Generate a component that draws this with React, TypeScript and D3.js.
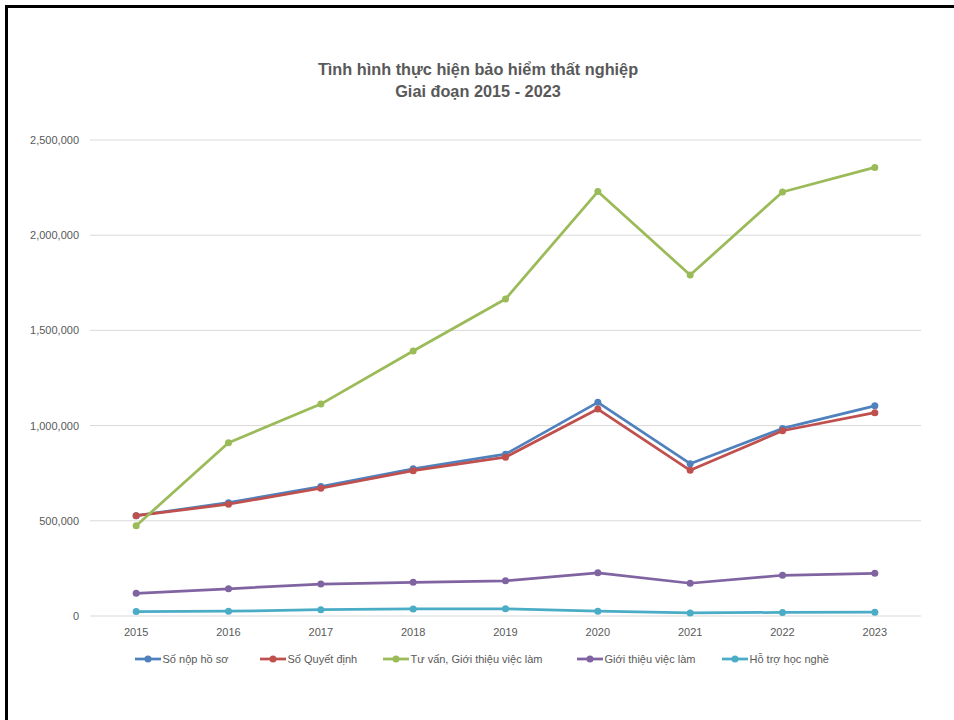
import React from "react";
import * as d3 from "d3";

const years = ["2015", "2016", "2017", "2018", "2019", "2020", "2021", "2022", "2023"];
const soNopHoSo = [527000, 595000, 680000, 773000, 850000, 1122000, 800000, 985000, 1104000];
const soQuyetDinh = [527000, 587000, 671000, 763000, 834000, 1087000, 765000, 973000, 1068000];
const tuVan = [474000, 910000, 1113000, 1392000, 1665000, 2229000, 1791000, 2227000, 2356000];
const gioiThieu = [119000, 143000, 168000, 177000, 185000, 227000, 172000, 214000, 224000];
const hoTro = [23000, 25000, 33000, 37000, 38000, 25000, 16000, 19000, 20000];
const yTicks = [0, 500000, 1000000, 1500000, 2000000, 2500000];
const titleLines = ["Tình hình thực hiện bảo hiểm thất nghiệp", "Giai đoạn 2015 - 2023"];

const series = [
  { name: "Số nộp hồ sơ", values: soNopHoSo, color: "#4F81BD" },
  { name: "Số Quyết định", values: soQuyetDinh, color: "#C0504D" },
  { name: "Tư vấn, Giới thiệu việc làm", values: tuVan, color: "#9BBB59" },
  { name: "Giới thiệu việc làm", values: gioiThieu, color: "#8064A2" },
  { name: "Hỗ trợ học nghề", values: hoTro, color: "#4BACC6" },
];

const W = 954;
const H = 720;
const plot = { left: 90, right: 921, top: 140, bottom: 616 };
const legendX = [135, 260, 383, 577, 722];
const font = "'Liberation Sans', Arial, sans-serif";
const textColor = "#595959";

export default function App() {
  React.useEffect(() => {
    document.body.style.margin = "0";
  }, []);
  const x = d3.scaleBand<string>().domain(years).range([plot.left, plot.right]);
  const y = d3.scaleLinear().domain([0, 2500000]).range([plot.bottom, plot.top]);
  const fmt = d3.format(",");
  const line = d3
    .line<number>()
    .x((_, i) => (x(years[i]) as number) + x.bandwidth() / 2)
    .y((d) => y(d));

  return (
    <svg width={W} height={H} style={{ display: "block", background: "#fff" }}>
      <rect x={6.5} y={6.5} width={W + 20} height={H + 20} fill="none" stroke="#000" strokeWidth={3} />
      <g fontFamily={font} fontWeight="bold" fontSize={16.3} fill={textColor} textAnchor="middle">
        {titleLines.map((t, i) => (
          <text key={i} x={478} y={75 + i * 22}>
            {t}
          </text>
        ))}
      </g>
      <g>
        {yTicks.map((t) => (
          <g key={t}>
            <line x1={plot.left} x2={plot.right} y1={y(t)} y2={y(t)} stroke="#D9D9D9" strokeWidth={1} />
            <text x={79} y={y(t) + 4} textAnchor="end" fontFamily={font} fontSize={11} fill={textColor}>
              {fmt(t)}
            </text>
          </g>
        ))}
        {years.map((yr) => (
          <text
            key={yr}
            x={(x(yr) as number) + x.bandwidth() / 2}
            y={636}
            textAnchor="middle"
            fontFamily={font}
            fontSize={11}
            fill={textColor}
          >
            {yr}
          </text>
        ))}
      </g>
      {series.map((s) => (
        <g key={s.name}>
          <path d={line(s.values) || ""} fill="none" stroke={s.color} strokeWidth={2.75} strokeLinejoin="round" />
          {s.values.map((v, i) => (
            <circle
              key={i}
              cx={(x(years[i]) as number) + x.bandwidth() / 2}
              cy={y(v)}
              r={3.5}
              fill={s.color}
            />
          ))}
        </g>
      ))}
      <g>
        {series.map((s, i) => (
          <g key={s.name} transform={`translate(${legendX[i]},659)`}>
            <line x1={0} x2={26} y1={0} y2={0} stroke={s.color} strokeWidth={2.75} />
            <circle cx={13} cy={0} r={3.5} fill={s.color} />
            <text x={27.5} y={4} fontFamily={font} fontSize={11} fill={textColor}>
              {s.name}
            </text>
          </g>
        ))}
      </g>
    </svg>
  );
}
